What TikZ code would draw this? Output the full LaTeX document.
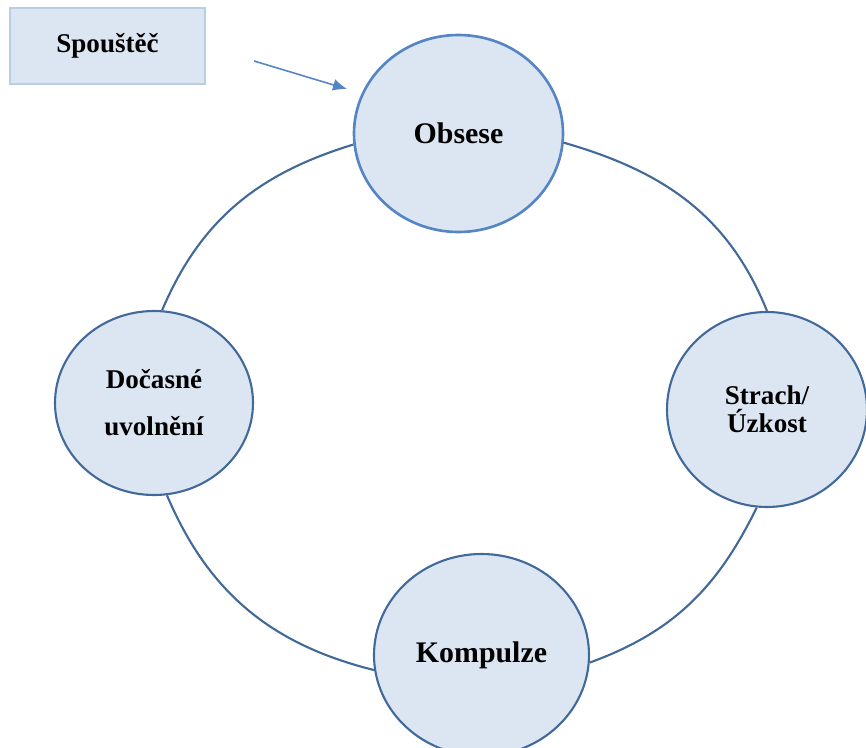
\documentclass[tikz,border=0pt]{standalone}
\usepackage{fontspec}
\setmainfont{Liberation Serif}
\usetikzlibrary{positioning,calc,arrows.meta,shapes.geometric}
\definecolor{stagefill}{HTML}{DCE6F2}
\definecolor{cycleblue}{HTML}{41699A}
\definecolor{obsblue}{HTML}{5585C5}
\definecolor{triggerline}{HTML}{B9CDE5}
\tikzset{
  ring/.style={line width=1.2pt,draw=cycleblue},
  stage/.style={ellipse,draw=cycleblue,line width=1.2pt,fill=stagefill,inner sep=0,align=center,
                font=\bfseries\fontsize{15.4}{16}\selectfont},
  bigstage/.style={stage,font=\bfseries\fontsize{17}{18}\selectfont},
  trigger/.style={rectangle,draw=triggerline,line width=1.5pt,fill=stagefill,inner sep=0,
                  minimum width=3.9cm,minimum height=1.52cm,font=\bfseries\fontsize{15.4}{16}\selectfont},
  trigarrow/.style={-{Latex[length=2.8mm,width=2.4mm]},line width=0.9pt,draw=obsblue,fill=obsblue},
}
\begin{document}
\begin{tikzpicture}
  \useasboundingbox (0,0) rectangle (17.32,14.94);
  % the four stages of the cycle
  \node[bigstage,draw=obsblue,line width=1.5pt,minimum width=4.18cm,minimum height=3.94cm] (obs) at (9.17,12.27) {Obsese};
  \node[stage,minimum width=4.0cm,minimum height=3.9cm,font=\bfseries\fontsize{15.4}{15.9}\selectfont] (str) at (15.34,6.75) {Strach/\\Úzkost};
  \node[bigstage,minimum width=4.3cm,minimum height=4.04cm] (kom) at (9.63,1.84) {Kompulze};
  \node[stage,minimum width=3.96cm,minimum height=3.68cm,font=\bfseries\fontsize{15.4}{26.7}\selectfont] (doc) at (3.08,6.88) {Dočasné\\uvolnění};
  % the ring between them
  \draw[ring] (obs.355) to[out=-16,in=112] (str.90);
  \draw[ring] (str.264) to[out=244,in=20] (kom.356);
  \draw[ring] (kom.188) to[out=166,in=293] (doc.278);
  \draw[ring] (obs.186) to[out=197,in=67] (doc.85);
  % trigger
  \node[trigger] (trig) at (2.15,14.02) {Spouštěč};
  \coordinate (tA) at (5.08,13.72);
  \coordinate (tB) at (6.94,13.16);
  \draw[trigarrow] (tA) -- (tB);
\end{tikzpicture}
\end{document}
